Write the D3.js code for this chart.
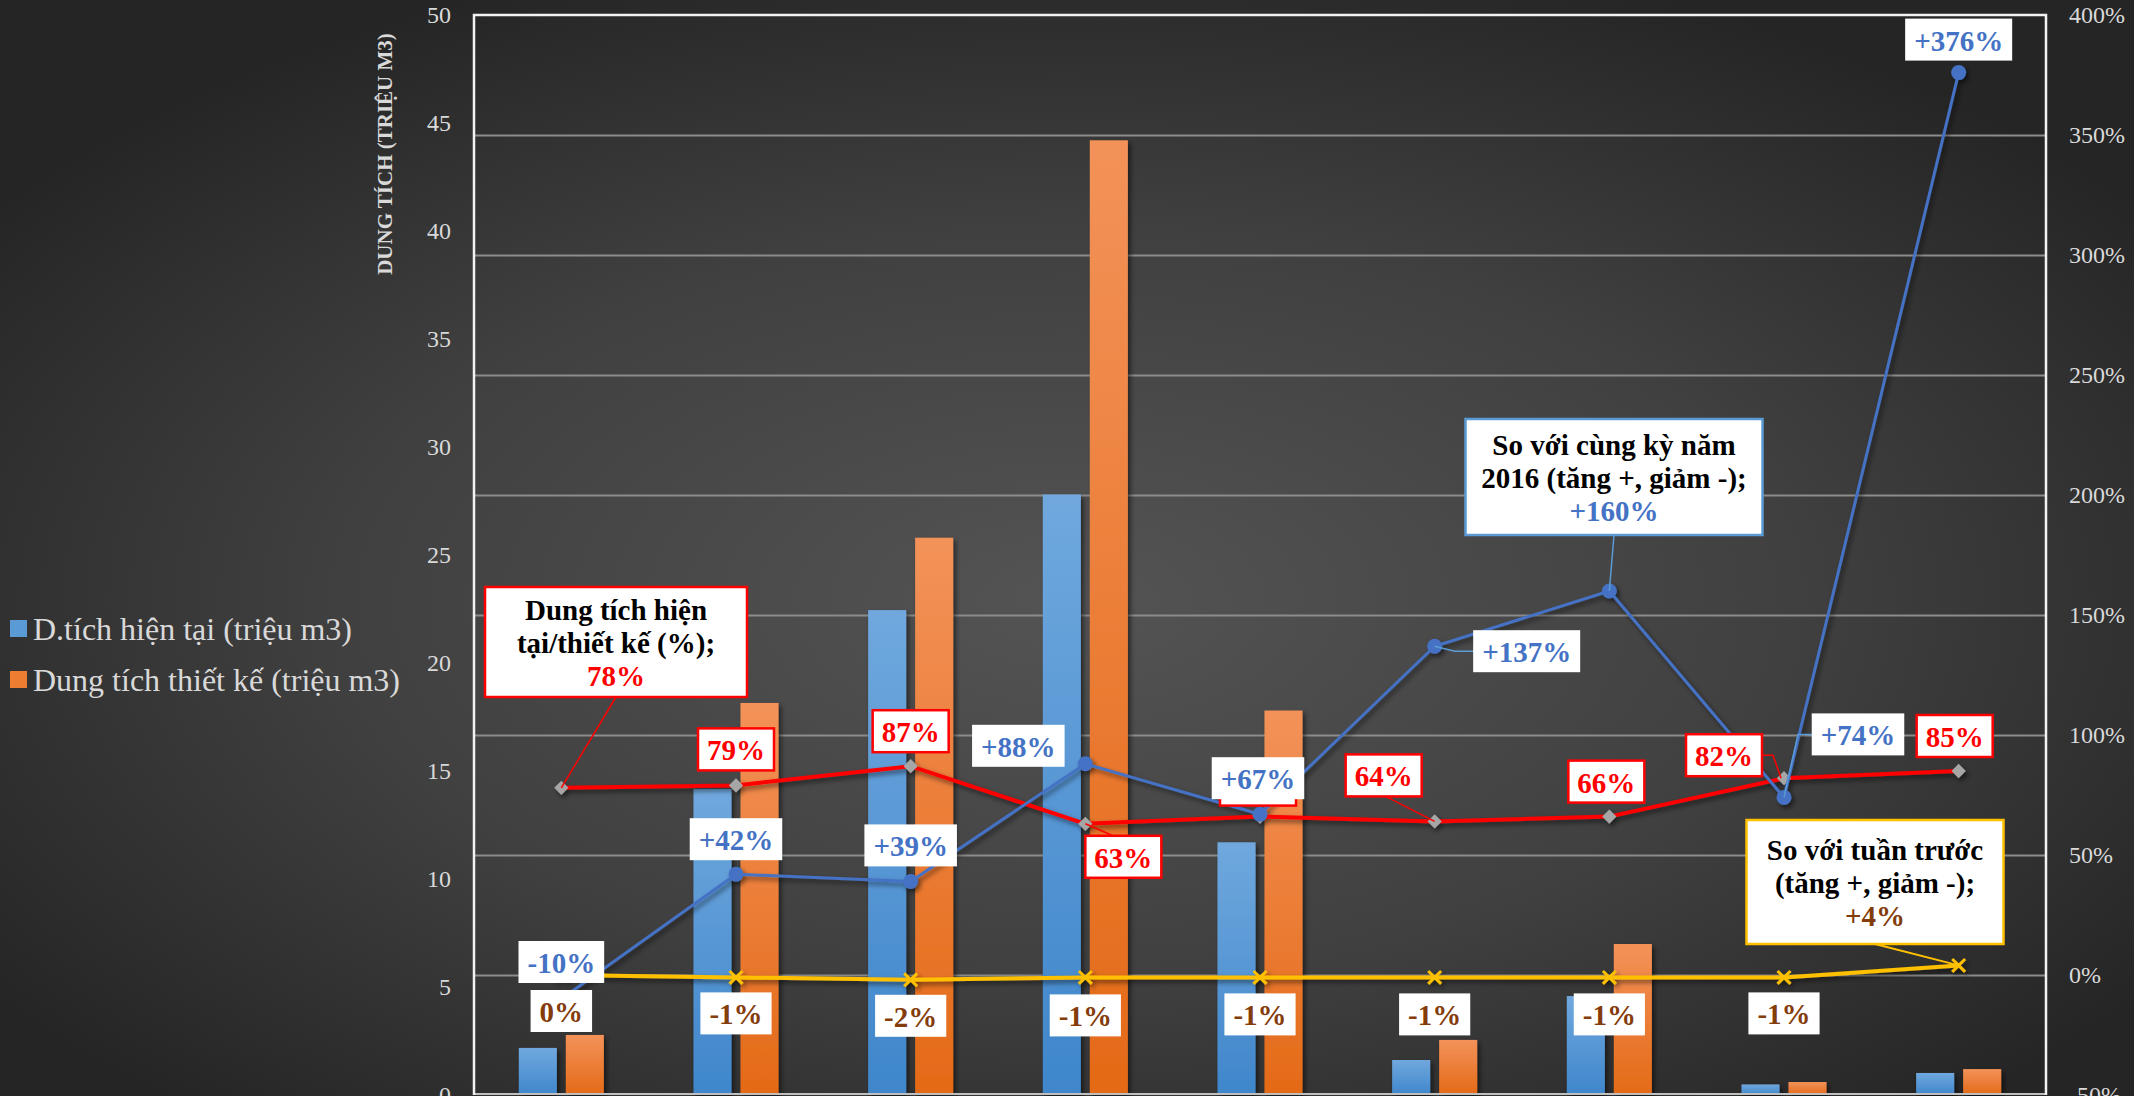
<!DOCTYPE html>
<html>
<head>
<meta charset="utf-8">
<script src="https://cdn.jsdelivr.net/npm/d3@7"></script>
<style>
  html, body { margin: 0; padding: 0; background: #2a2a2a; overflow: hidden; }
  svg { display: block; }
  text { font-family: "Liberation Serif", "Times New Roman", serif; }
</style>
</head>
<body>
<svg id="chart" width="2134" height="1096"></svg>
<script>
// ---------------- DATA ----------------
const categories = ["1", "2", "3", "4", "5", "6", "7", "8", "9"];
const currentVolume = [2.18, 14.17, 22.45, 27.8, 11.7, 1.62, 4.58, 0.49, 1.02];   // D.tích hiện tại (triệu m3)
const designVolume  = [2.78, 18.15, 25.8, 44.2, 17.8, 2.55, 6.99, 0.6, 1.2];      // Dung tích thiết kế (triệu m3)
const ratioPct = [78, 79, 87, 63, 66, 64, 66, 82, 85];                           // Dung tích hiện tại/thiết kế (%)
const yoyPct   = [-10, 42, 39, 88, 67, 137, 160, 74, 376];                        // So với cùng kỳ năm 2016
const wowPct   = [0, -1, -2, -1, -1, -1, -1, -1, 4];                              // So với tuần trước
const leftTicks  = [0, 5, 10, 15, 20, 25, 30, 35, 40, 45, 50];
const rightTicks = [-50, 0, 50, 100, 150, 200, 250, 300, 350, 400];
const gridTicks  = [0, 50, 100, 150, 200, 250, 300, 350];
const legendNames = ["D.tích hiện tại (triệu m3)", "Dung tích thiết kế (triệu m3)"];
const yAxisTitle = "DUNG TÍCH (TRIỆU M3)";
const ratioCallout = ["Dung tích hiện", "tại/thiết kế (%);"];
const yoyCallout   = ["So với cùng kỳ năm", "2016 (tăng +, giảm -);"];
const wowCallout   = ["So với tuần trước", "(tăng +, giảm -);"];

// ---------------- LAYOUT ----------------
const W = 2134, H = 1096;
const plot = { left: 474, right: 2046, top: 15, bottom: 1095 };
const FONT = '"Liberation Serif", "Times New Roman", serif';
// label offsets (box centre relative to point) – layout only
const yoyOff   = [[0,-37],[0,-35],[0,-36],[-67,-18],[-2,-36],[92,5],null,[74,-63],[0,-33]];
const ratioOff = [null,[0,-36],[0,-35],[38,33],[-2,-32],[-51,-46],[-3,-35],[-60,-23],[-4,-35]];
const wowOff   = [[0,36],[0,36],[0,36],[0,38],[0,37],[0,37],[0,37],[0,36],null];

const svg = d3.select("#chart");
const defs = svg.append("defs");

const bg = defs.append("radialGradient").attr("id","bg").attr("cx","50%").attr("cy","55%").attr("r","62%");
bg.append("stop").attr("offset","0%").attr("stop-color","#545454");
bg.append("stop").attr("offset","55%").attr("stop-color","#404040");
bg.append("stop").attr("offset","100%").attr("stop-color","#252525");

const gB = defs.append("linearGradient").attr("id","gBlue").attr("x1",0).attr("y1",0).attr("x2",0).attr("y2",1);
gB.append("stop").attr("offset","0%").attr("stop-color","#70a8de");
gB.append("stop").attr("offset","100%").attr("stop-color","#3f86cb");
const gO = defs.append("linearGradient").attr("id","gOrange").attr("x1",0).attr("y1",0).attr("x2",0).attr("y2",1);
gO.append("stop").attr("offset","0%").attr("stop-color","#f39259");
gO.append("stop").attr("offset","100%").attr("stop-color","#e46a17");

const sh = defs.append("filter").attr("id","sh").attr("x","-20%").attr("y","-20%").attr("width","140%").attr("height","140%");
sh.append("feDropShadow").attr("dx",2.5).attr("dy",3).attr("stdDeviation",2.5).attr("flood-color","#000").attr("flood-opacity",0.55);

svg.append("rect").attr("width",W).attr("height",H).attr("fill","url(#bg)");

// scales
const x = d3.scaleBand().domain(categories).range([plot.left, plot.right]).padding(0);
const yL = d3.scaleLinear().domain([0, 50]).range([plot.bottom, plot.top]);
const yR = d3.scaleLinear().domain([-50, 400]).range([plot.bottom, plot.top]);
const bw = x.bandwidth();
const groupW = bw * 0.487;
const xSub = d3.scaleBand().domain(["cur","des"])
  .range([bw/2 - groupW/2, bw/2 + groupW/2]).paddingInner(0.19).paddingOuter(0);
const cx = i => x(categories[i]) + bw/2;

// gridlines (secondary axis)
const grid = svg.append("g").attr("transform", `translate(${plot.left},0)`)
  .call(d3.axisRight(yR).tickValues(gridTicks).tickSize(plot.right - plot.left).tickFormat(""));
grid.select(".domain").remove();
grid.selectAll("line").attr("stroke","#8c8c8c").attr("stroke-width",2);

// bars
const barG = svg.append("g").attr("filter","url(#sh)");
categories.forEach((c, i) => {
  barG.append("rect").attr("x", x(c) + xSub("cur")).attr("width", xSub.bandwidth())
    .attr("y", yL(currentVolume[i])).attr("height", yL(0) - yL(currentVolume[i])).attr("fill","url(#gBlue)");
  barG.append("rect").attr("x", x(c) + xSub("des")).attr("width", xSub.bandwidth())
    .attr("y", yL(designVolume[i])).attr("height", yL(0) - yL(designVolume[i])).attr("fill","url(#gOrange)");
});

// frame
svg.append("line").attr("x1",plot.left).attr("x2",plot.right).attr("y1",plot.bottom-1).attr("y2",plot.bottom-1)
  .attr("stroke","#bfbfbf").attr("stroke-width",2);
svg.append("path").attr("d",`M${plot.left},${plot.bottom}V${plot.top}H${plot.right}V${plot.bottom}`)
  .attr("fill","none").attr("stroke","#f2f2f2").attr("stroke-width",2.5);

// axes
const axL = svg.append("g").attr("transform",`translate(${plot.left},0)`)
  .call(d3.axisLeft(yL).tickValues(leftTicks).tickSize(0).tickPadding(23));
axL.select(".domain").remove();
axL.selectAll("text").attr("fill","#d9d9d9").style("font-family",FONT).style("font-size","24px");

const axR = svg.append("g").attr("transform",`translate(${plot.right},0)`)
  .call(d3.axisRight(yR).tickValues(rightTicks).tickSize(0).tickPadding(23).tickFormat(d => d + "%"));
axR.select(".domain").remove();
axR.selectAll("text").attr("fill","#d9d9d9").style("font-family",FONT).style("font-size","24px");

svg.append("text").attr("transform","translate(392,154) rotate(-90)").attr("text-anchor","middle")
  .attr("fill","#d9d9d9").style("font-size","21px").style("font-weight","bold").text(yAxisTitle);

// legend
legendNames.forEach((n, i) => {
  const yy = 629 + i * 51;
  svg.append("rect").attr("x",10).attr("y",yy-9).attr("width",17).attr("height",17)
    .attr("fill", i === 0 ? "#5B9BD5" : "#ED7D31");
  svg.append("text").attr("x",33).attr("y",yy).attr("dominant-baseline","central")
    .attr("fill","#d9d9d9").style("font-size","32px").text(n);
});

// lines
const line = (arr) => d3.line().x((d, i) => cx(i)).y(d => yR(d))(arr);
const lineG = svg.append("g").attr("filter","url(#sh)");
// red ratio
lineG.append("path").attr("d", line(ratioPct)).attr("fill","none").attr("stroke","#ff0000").attr("stroke-width",4);
ratioPct.forEach((v, i) => {
  lineG.append("path").attr("d", d3.symbol(d3.symbolDiamond2, 130)())
    .attr("transform",`translate(${cx(i)},${yR(v)})`).attr("fill","#a6a6a6");
});
// blue year-on-year
lineG.append("path").attr("d", line(yoyPct)).attr("fill","none").attr("stroke","#4472C4").attr("stroke-width",3);
yoyPct.forEach((v, i) => {
  lineG.append("circle").attr("cx",cx(i)).attr("cy",yR(v)).attr("r",7.5).attr("fill","#4472C4");
});
// yellow week-on-week
lineG.append("path").attr("d", line(wowPct)).attr("fill","none").attr("stroke","#FFC000").attr("stroke-width",4);
wowPct.forEach((v, i) => {
  lineG.append("path").attr("d", d3.symbol(d3.symbolX, 110)())
    .attr("transform",`translate(${cx(i)},${yR(v)})`).attr("fill","none").attr("stroke","#FFC000").attr("stroke-width",3);
});

// labels
const labG = svg.append("g");
const fmtSigned = v => (v > 0 ? "+" : "") + v + "%";
function leader(pts, color, w) {
  labG.append("path").attr("d", d3.line()(pts)).attr("fill","none").attr("stroke",color).attr("stroke-width",w);
}
function label(x0, y0, txt, color, border) {
  const g = labG.append("g");
  const r = g.append("rect");
  const t = g.append("text").attr("x",x0).attr("y",y0+1).attr("text-anchor","middle").attr("dominant-baseline","central")
    .attr("fill",color).style("font-size","29px").style("font-weight","bold").text(txt);
  const tw = t.node().getComputedTextLength();
  const w = tw + 18, h = 42;
  r.attr("x", x0 - w/2).attr("y", y0 - h/2).attr("width", w).attr("height", h).attr("fill","#fff");
  if (border) r.attr("stroke", border).attr("stroke-width", 2.5);
}
function callout(cxp, cyp, w, h, lines, valTxt, valColor, border) {
  const g = labG.append("g");
  g.append("rect").attr("x", cxp - w/2).attr("y", cyp - h/2).attr("width", w).attr("height", h)
    .attr("fill","#fff").attr("stroke",border).attr("stroke-width",2.5);
  const all = lines.concat([valTxt]);
  all.forEach((l, k) => {
    g.append("text").attr("x",cxp).attr("y", cyp + (k - 1) * 33 + 1).attr("text-anchor","middle")
      .attr("dominant-baseline","central").attr("fill", k === all.length - 1 ? valColor : "#000")
      .style("font-size","29px").style("font-weight","bold").text(l);
  });
}

// red ratio labels
ratioPct.forEach((v, i) => {
  const o = ratioOff[i]; if (!o) return;
  const px = cx(i), py = yR(v);
  if (i === 3) leader([[px, py], [px + 30, py + 13]], "#ff0000", 1.5);
  if (i === 5) leader([[px + o[0], py + o[1] + 20], [px, py]], "#ff0000", 1.5);
  if (i === 7) leader([[px + o[0] + 37, py + o[1]], [px - 11, py + o[1]], [px - 3, py]], "#ff0000", 1.5);
  label(px + o[0], py + o[1], v + "%", "#ff0000", "#ff0000");
});
// ratio callout (first point)
{
  const px = cx(0), py = yR(ratioPct[0]);
  leader([[616, 697], [px, py]], "#ff0000", 1.5);
  callout(616, 642, 262, 110, ratioCallout, ratioPct[0] + "%", "#ff0000", "#ff0000");
}
// blue yoy labels
yoyPct.forEach((v, i) => {
  const o = yoyOff[i]; if (!o) return;
  const px = cx(i), py = yR(v);
  if (i === 5) leader([[px, py], [px + 20, py + 5], [px + 45, py + 5]], "#5B9BD5", 1.5);
  if (i === 7) leader([[px + o[0] - 40, py + o[1]], [px + 14, py + o[1]], [px, py]], "#5B9BD5", 1.5);
  label(px + o[0], py + o[1], fmtSigned(v), "#4472C4", null);
});
{
  const px = cx(6), py = yR(yoyPct[6]);
  leader([[1614, 535], [px, py]], "#5B9BD5", 1.5);
  callout(1614, 477, 297, 116, yoyCallout, fmtSigned(yoyPct[6]), "#4472C4", "#5B9BD5");
}
// brown wow labels
wowPct.forEach((v, i) => {
  const o = wowOff[i]; if (!o) return;
  const px = cx(i), py = yR(v);
  label(px + o[0], py + o[1], fmtSigned(v), "#843C0C", null);
});
{
  const px = cx(8), py = yR(wowPct[8]);
  leader([[1875, 944], [px, py]], "#FFC000", 2);
  callout(1875, 882, 257, 124, wowCallout, fmtSigned(wowPct[8]), "#843C0C", "#FFC000");
}
</script>
</body>
</html>
